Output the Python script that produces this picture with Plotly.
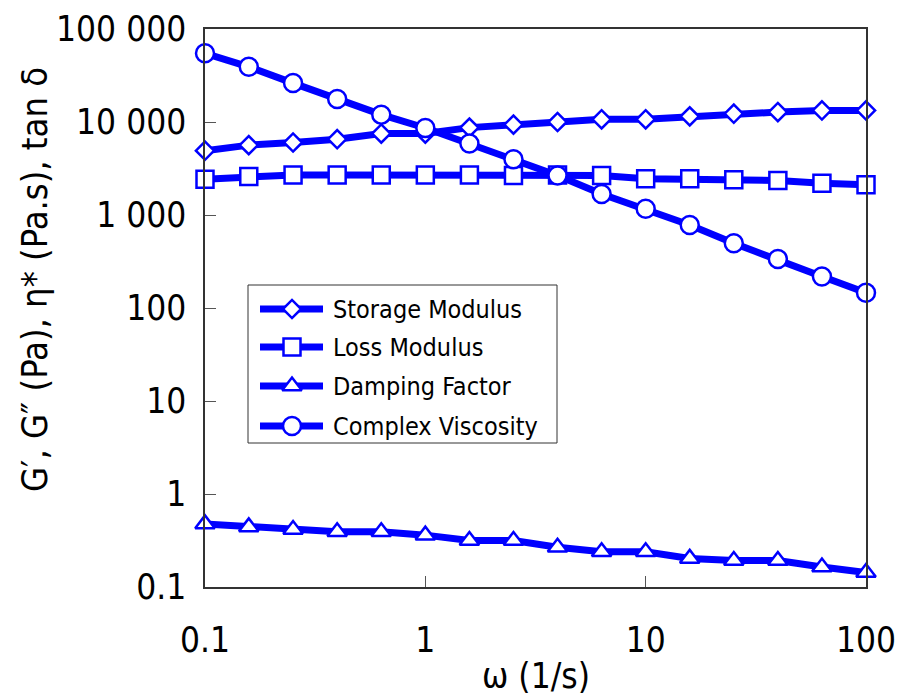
import plotly.graph_objects as go

# Angular frequency sweep (rad/s), five points per decade
omega = [0.1, 0.158, 0.251, 0.398, 0.631, 1.0, 1.585, 2.512, 3.981, 6.31,
         10.0, 15.85, 25.12, 39.81, 63.1, 100.0]

storage_modulus = [4910, 5640, 6020, 6530, 7510, 7510, 8700, 9370, 10000, 10700,
                   10700, 11500, 12270, 12780, 13300, 13300]
loss_modulus = [2430, 2590, 2700, 2700, 2700, 2700, 2700, 2660, 2700, 2660,
                2450, 2450, 2390, 2350, 2200, 2110]
damping_factor = [0.477, 0.443, 0.415, 0.392, 0.392, 0.361, 0.316, 0.316, 0.268, 0.239,
                  0.239, 0.203, 0.193, 0.193, 0.164, 0.143]
complex_viscosity = [54800, 39200, 26200, 17700, 12000, 8630, 5880, 3970, 2660, 1680,
                     1165, 780, 497, 336, 218, 146]

x_ticks = [0.1, 1, 10, 100]
x_ticktext = ["0.1", "1", "10", "100"]
y_ticks = [0.1, 1, 10, 100, 1000, 10000, 100000]
y_ticktext = ["0.1", "1", "10", "100", "1 000", "10 000", "100 000"]

BLUE = "#0000FF"
FONT = "DejaVu Sans Condensed, DejaVu Sans"

# name, values, marker symbol, marker size
series = [
    ("Storage Modulus", storage_modulus, "diamond", 14),
    ("Loss Modulus", loss_modulus, "square", 17),
    ("Damping Factor", damping_factor, "triangle-up", 17),
    ("Complex Viscosity", complex_viscosity, "circle", 18),
]

# Plot area in page pixels
L, R, T, B = 205, 866, 29, 587
W, H = 901, 698

fig = go.Figure()
for name, values, symbol, size in series:
    fig.add_trace(go.Scatter(
        x=omega, y=values, name=name, mode="lines+markers",
        line=dict(color=BLUE, width=7),
        marker=dict(symbol=symbol, size=size, color="white",
                    line=dict(color=BLUE, width=2.5)),
        cliponaxis=False, showlegend=False,
    ))

# Legend drawn on a pixel-unit overlay axis pair
legend_box = dict(x0=248, x1=557, y0=285, y1=443)
legend_rows = [309, 347, 386, 426]
line_x0, line_x1, marker_x, text_x = 260, 323, 292, 331

shapes = [dict(type="rect", xref="x2", yref="y2", layer="below",
               line=dict(color="#333333", width=1), fillcolor="white",
               **legend_box)]
annotations = []
for (name, values, symbol, size), ry in zip(series, legend_rows):
    shapes.append(dict(type="line", xref="x2", yref="y2", layer="below",
                       x0=line_x0, x1=line_x1, y0=ry, y1=ry,
                       line=dict(color=BLUE, width=7)))
    fig.add_trace(go.Scatter(
        x=[marker_x], y=[ry], xaxis="x2", yaxis="y2", mode="markers",
        marker=dict(symbol=symbol, size=size, color="white",
                    line=dict(color=BLUE, width=2.5)),
        cliponaxis=False, showlegend=False, hoverinfo="skip",
    ))
    annotations.append(dict(
        text=name, xref="x2", yref="y2", x=text_x, y=ry,
        xanchor="left", yanchor="middle", showarrow=False,
        font=dict(family=FONT, size=25, color="black"),
    ))

annotations.append(dict(
    text="G′, G″ (Pa), η* (Pa.s), tan δ",
    textangle=-90, xref="paper", yref="paper",
    x=(34 - L) / (R - L), y=(B - 280) / (B - T),
    xanchor="center", yanchor="middle", showarrow=False,
    font=dict(family=FONT, size=36, color="black"),
))
annotations.append(dict(
    text="ω (1/s)", xref="paper", yref="paper",
    x=0.5, y=(B - 676) / (B - T),
    xanchor="center", yanchor="middle", showarrow=False,
    font=dict(family=FONT, size=35, color="black"),
))

fig.update_layout(
    width=W, height=H,
    margin=dict(l=L, r=W - R, t=T, b=H - B),
    plot_bgcolor="white", paper_bgcolor="white",
    font=dict(family=FONT, color="black"),
    showlegend=False,
    xaxis=dict(
        type="log", range=[-1, 2], automargin=False,
        tickvals=x_ticks, ticktext=x_ticktext,
        ticks="inside", ticklen=11, tickcolor="#555555",
        tickfont=dict(size=35),
        ticklabelstandoff=21,
        showgrid=False, zeroline=False,
        showline=True, linecolor="#333333", linewidth=1.5, mirror=True,
    ),
    yaxis=dict(
        type="log", range=[-1, 5], automargin=False,
        tickvals=y_ticks, ticktext=y_ticktext,
        ticks="inside", ticklen=11, tickcolor="#555555",
        tickfont=dict(size=35),
        ticklabelstandoff=10,
        showgrid=False, zeroline=False,
        showline=True, linecolor="#333333", linewidth=1.5, mirror=True,
    ),
    xaxis2=dict(overlaying="x", range=[L, R], visible=False, automargin=False),
    yaxis2=dict(overlaying="y", range=[B, T], visible=False, automargin=False),
    shapes=shapes,
    annotations=annotations,
)

fig.write_html("out.html")
